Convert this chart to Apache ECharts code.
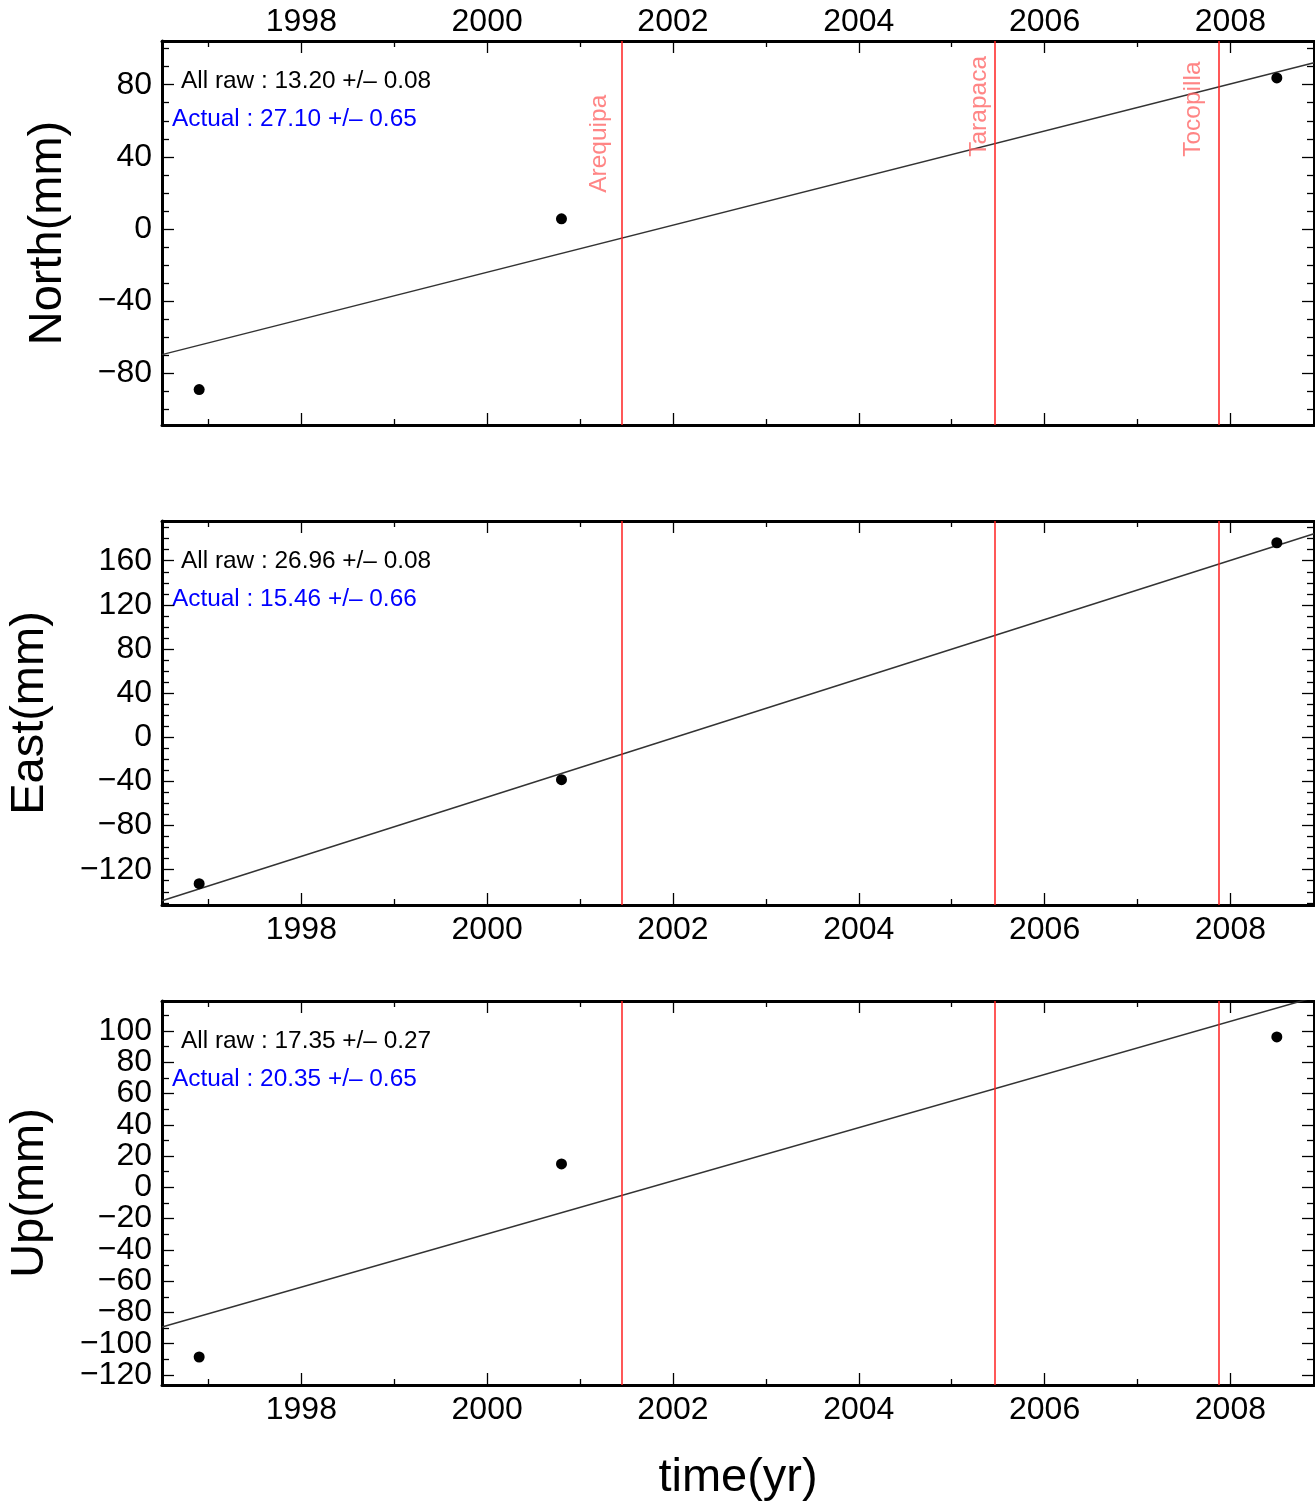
<!DOCTYPE html>
<html><head><meta charset="utf-8">
<script src="https://cdn.jsdelivr.net/npm/echarts@6/dist/echarts.min.js"></script>
<style>html,body{margin:0;padding:0;background:#fff}#c{width:1315px;height:1506px}</style>
</head><body><div id="c"></div><script>
// ---- data ----
const times = [1996.9, 2000.8, 2008.5];
const northValues = [-89.3, 5.5, 83.8];
const eastValues = [-132.7, -38.4, 176.3];
const upValues = [-108.5, 15.0, 96.2];
const fitTimes = [1996.5, 2008.9];
const northFit = [-69.9, 92.2];
const eastFit = [-148.2, 184.5];
const upFit = [-89.3, 121.5];
const quakeNames = ['Arequipa', 'Tarapaca', 'Tocopilla'];
const quakeTimes = [2001.45, 2005.46, 2007.88];
const quakeLabelTimes = [2001.34, 2005.435, 2007.74];
const quakeLabelNorth = [20, 40, 40];
const xRange = [1996.5, 2008.9];
const xMajorTicks = [1998, 2000, 2002, 2004, 2006, 2008];
const xMinorTicks = [1997, 1999, 2001, 2003, 2005, 2007];
const panelNames = ['North(mm)', 'East(mm)', 'Up(mm)'];
const yRanges = [[-109, 104.3], [-152, 196], [-126.4, 119.2]];
const yMajorTicks = [
  [-80, -40, 0, 40, 80],
  [-120, -80, -40, 0, 40, 80, 120, 160],
  [-120, -100, -80, -60, -40, -20, 0, 20, 40, 60, 80, 100]
];
const yMinorTicks = [
  [-100, -90, -70, -60, -50, -30, -20, -10, 10, 20, 30, 50, 60, 70, 90, 100],
  [-150, -140, -130, -110, -100, -90, -70, -60, -50, -30, -20, -10, 10, 20, 30, 50, 60, 70, 90, 100, 110, 130, 140, 150, 170, 180, 190],
  [-110, -90, -70, -50, -30, -10, 10, 30, 50, 70, 90, 110]
];
const rawRates = ['13.20 +/\u2013 0.08', '26.96 +/\u2013 0.08', '17.35 +/\u2013 0.27'];
const actualRates = ['27.10 +/\u2013 0.65', '15.46 +/\u2013 0.66', '20.35 +/\u2013 0.65'];
const xName = 'time(yr)';

// ---- layout ----
const FONT = 'Liberation Sans';
const gridTops = [41, 521, 1001];
const gridH = 384;
const seriesValues = [northValues, eastValues, upValues];
const fits = [northFit, eastFit, upFit];
const nameGaps = [90, 108, 108];

const fmt = v => v < 0 ? '\u2212' + Math.abs(v) : String(v);

const grid = [], xAxis = [], yAxis = [], series = [], graphic = [];

gridTops.forEach((top, p) => {
  grid.push({left: 162, right: 1, top: top, height: gridH, containLabel: false, outerBoundsMode: 'none'});
  const base = {gridIndex: p, type: 'value', min: xRange[0], max: xRange[1], splitLine: {show: false}};
  const mkX = (position, major, showLabel, lw) => Object.assign({}, base, {
    position: position,
    axisLine: {show: lw > 0, onZero: false, lineStyle: {color: '#000', width: lw}},
    axisTick: {show: true, inside: true, length: major ? 12 : 6, customValues: major ? xMajorTicks : xMinorTicks, lineStyle: {color: '#000', width: 1.3}},
    axisLabel: {show: showLabel, customValues: xMajorTicks, fontSize: 32, fontFamily: FONT, color: '#000',
      hideOverlap: false, showMinLabel: true, showMaxLabel: true,
      margin: position === 'top' ? 3 : 9, formatter: v => String(v)}
  });
  const xb = mkX('bottom', true, p > 0, 3);
  if (p === 2) {
    xb.name = xName; xb.nameLocation = 'middle'; xb.nameGap = 70;
    xb.nameTextStyle = {fontSize: 47, fontFamily: FONT, color: '#000'};
  }
  xAxis.push(xb, mkX('bottom', false, false, 0), mkX('top', true, p === 0, 3), mkX('top', false, false, 0));

  // labels split over two co-located axes so that closely spaced labels are all kept
  const labelsA = yMajorTicks[p].filter((v, i) => i % 2 === 0);
  const labelsB = yMajorTicks[p].filter((v, i) => i % 2 === 1);
  const ybase = {gridIndex: p, type: 'value', min: yRanges[p][0], max: yRanges[p][1], splitLine: {show: false}};
  const mkY = (position, major, labels, lw) => Object.assign({}, ybase, {
    position: position,
    axisLine: {show: lw > 0, onZero: false, lineStyle: {color: '#000', width: lw}},
    axisTick: {show: true, inside: true, length: major ? 12 : 7, customValues: major ? yMajorTicks[p] : yMinorTicks[p], lineStyle: {color: '#000', width: 1.3}},
    axisLabel: {show: !!labels, customValues: labels || yMajorTicks[p], fontSize: 32, fontFamily: FONT, color: '#000', margin: 10,
      hideOverlap: false, showMinLabel: true, showMaxLabel: true, formatter: fmt}
  });
  const yl = mkY('left', true, labelsA, 3);
  yl.name = panelNames[p]; yl.nameLocation = 'middle'; yl.nameGap = nameGaps[p];
  yl.nameTextStyle = {fontSize: 47, fontFamily: FONT, color: '#000'};
  yAxis.push(yl, mkY('left', false, labelsB, 0), mkY('right', true, null, 2), mkY('right', false, null, 0));

  const xi = p * 4, yi = p * 4;
  series.push({
    type: 'line', xAxisIndex: xi, yAxisIndex: yi, silent: true, animation: false,
    showSymbol: false, symbol: 'none', clip: true,
    data: fitTimes.map((t, i) => [t, fits[p][i]]),
    lineStyle: {color: '#333', width: 1.5},
    markLine: {
      silent: true, animation: false, symbol: ['none', 'none'],
      label: {show: false},
      lineStyle: {color: '#ff2020', width: 1.5, type: 'solid'},
      emphasis: {disabled: true},
      data: quakeTimes.map(t => ({xAxis: t}))
    },
    z: 3
  });
  series.push({
    type: 'scatter', xAxisIndex: xi, yAxisIndex: yi, silent: true, animation: false,
    symbolSize: 11, itemStyle: {color: '#000', opacity: 1},
    data: times.map((t, i) => [t, seriesValues[p][i]]), z: 5
  });
  if (p === 0) {
    series.push({
      type: 'scatter', xAxisIndex: xi, yAxisIndex: yi, silent: true, animation: false,
      symbolSize: 0, itemStyle: {color: 'rgba(0,0,0,0)'},
      data: quakeLabelTimes.map((t, i) => [t, quakeLabelNorth[i], quakeNames[i]]),
      label: {show: true, formatter: d => d.value[2], rotate: 90, position: [0, 0],
        align: 'left', verticalAlign: 'bottom', fontSize: 24.5, fontFamily: FONT, color: '#ff6666'},
      z: 4
    });
  }
  graphic.push({type: 'text', x: 181, y: top + 40, silent: true,
    style: {text: 'All raw : ' + rawRates[p], font: '24.4px "' + FONT + '"', fill: '#000', verticalAlign: 'middle'}});
  graphic.push({type: 'text', x: 172, y: top + 78, silent: true,
    style: {text: 'Actual : ' + actualRates[p], font: '24.4px "' + FONT + '"', fill: '#0000ff', verticalAlign: 'middle'}});
});

const chart = echarts.init(document.getElementById('c'), null, {renderer: 'canvas'});
chart.setOption({animation: false, backgroundColor: '#fff', grid, xAxis, yAxis, series, graphic});
</script></body></html>
